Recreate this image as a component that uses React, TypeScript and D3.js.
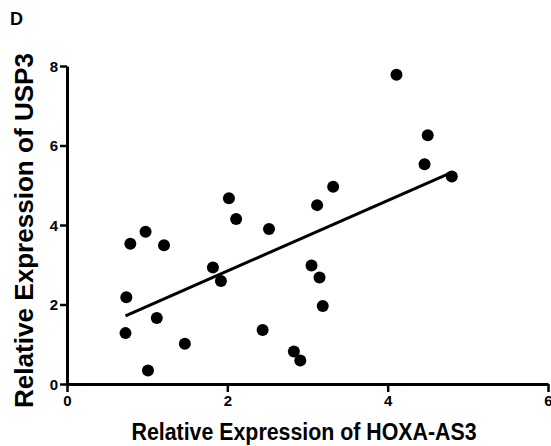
import React, { useEffect, useRef } from "react";
import * as d3 from "d3";

// HOXA-AS3 (x) vs USP3 (y) relative expression
const hoxaValues = [
  0.79, 0.98, 1.21, 0.74, 1.12, 0.73, 1.47, 1.01,
  2.02, 2.11, 2.52, 3.12, 1.82, 1.92, 3.05, 3.15, 3.19, 2.44, 2.83, 2.91,
  4.11, 4.5, 4.46, 4.8, 3.32,
];
const usp3Values = [
  3.53, 3.83, 3.49, 2.18, 1.66, 1.28, 1.01, 0.34,
  4.67, 4.15, 3.9, 4.5, 2.93, 2.59, 2.98, 2.68, 1.96, 1.36, 0.82, 0.59,
  7.78, 6.26, 5.53, 5.22, 4.96,
];
const xTicks = [0, 2, 4, 6];
const yTicks = [0, 2, 4, 6, 8];

const panelLabel = "D";
const xTitle = "Relative Expression of HOXA-AS3";
const yTitle = "Relative Expression of USP3";

const W = 551;
const H = 446;
const FONT = "'Liberation Sans', Arial, Helvetica, sans-serif";

const App = () => {
  const svgRef = useRef<SVGSVGElement>(null);

  useEffect(() => {
    const svg = d3.select(svgRef.current);
    svg.selectAll("*").remove();

    const x = d3.scaleLinear().domain([0, 6]).range([67, 548]);
    const y = d3.scaleLinear().domain([0, 8]).range([384, 66]);

    const points = hoxaValues.map((v, i) => ({ x: v, y: usp3Values[i] }));

    // least squares fit over the data range
    const mx = d3.mean(points, (d) => d.x) as number;
    const my = d3.mean(points, (d) => d.y) as number;
    const sxy = d3.sum(points, (d) => (d.x - mx) * (d.y - my));
    const sxx = d3.sum(points, (d) => (d.x - mx) ** 2);
    const slope = sxy / sxx;
    const intercept = my - slope * mx;
    const [x0, x1] = d3.extent(points, (d) => d.x) as [number, number];
    const fit = [x0, x1].map((v) => ({ x: v, y: intercept + slope * v }));

    // panel letter
    svg
      .append("text")
      .attr("x", 10)
      .attr("y", 25)
      .attr("font-family", FONT)
      .attr("font-weight", "bold")
      .attr("font-size", 18)
      .text(panelLabel);

    // axes
    const xAxis = svg
      .append("g")
      .attr("transform", `translate(0,${y(0)})`)
      .call(
        d3
          .axisBottom(x)
          .tickValues(xTicks)
          .tickFormat(d3.format("d"))
          .tickSize(8)
          .tickSizeOuter(0)
          .tickPadding(3)
      );
    const yAxis = svg
      .append("g")
      .attr("transform", `translate(${x(0)},0)`)
      .call(
        d3
          .axisLeft(y)
          .tickValues(yTicks)
          .tickFormat(d3.format("d"))
          .tickSize(7)
          .tickSizeOuter(0)
          .tickPadding(2)
      );

    [xAxis, yAxis].forEach((g) => {
      g.select(".domain").attr("stroke", "#000").attr("stroke-width", 3);
      g.selectAll(".tick line").attr("stroke", "#000").attr("stroke-width", 2.5);
      g.selectAll(".tick text")
        .attr("fill", "#000")
        .attr("font-family", FONT)
        .attr("font-weight", "bold")
        .attr("font-size", 15);
    });
    yAxis.selectAll(".tick text").attr("dy", "0.35em");

    // axis titles
    svg
      .append("text")
      .attr("x", 304)
      .attr("y", 440)
      .attr("text-anchor", "middle")
      .attr("font-family", FONT)
      .attr("font-weight", "bold")
      .attr("font-size", 23)
      .attr("textLength", 345)
      .attr("lengthAdjust", "spacingAndGlyphs")
      .text(xTitle);

    svg
      .append("text")
      .attr("transform", `translate(33,${(53 + 408) / 2}) rotate(-90)`)
      .attr("text-anchor", "middle")
      .attr("font-family", FONT)
      .attr("font-weight", "bold")
      .attr("font-size", 25)
      .attr("textLength", 355)
      .attr("lengthAdjust", "spacingAndGlyphs")
      .text(yTitle);

    // regression line
    svg
      .append("path")
      .datum(fit)
      .attr("fill", "none")
      .attr("stroke", "#000")
      .attr("stroke-width", 3)
      .attr(
        "d",
        d3
          .line<{ x: number; y: number }>()
          .x((d) => x(d.x))
          .y((d) => y(d.y))
      );

    // data points
    svg
      .append("g")
      .selectAll("circle")
      .data(points)
      .enter()
      .append("circle")
      .attr("cx", (d) => x(d.x))
      .attr("cy", (d) => y(d.y))
      .attr("r", 6)
      .attr("fill", "#000");
  }, []);

  return (
    <svg
      ref={svgRef}
      width={W}
      height={H}
      style={{ position: "absolute", left: 0, top: 0, background: "#fff" }}
    />
  );
};

export default App;
